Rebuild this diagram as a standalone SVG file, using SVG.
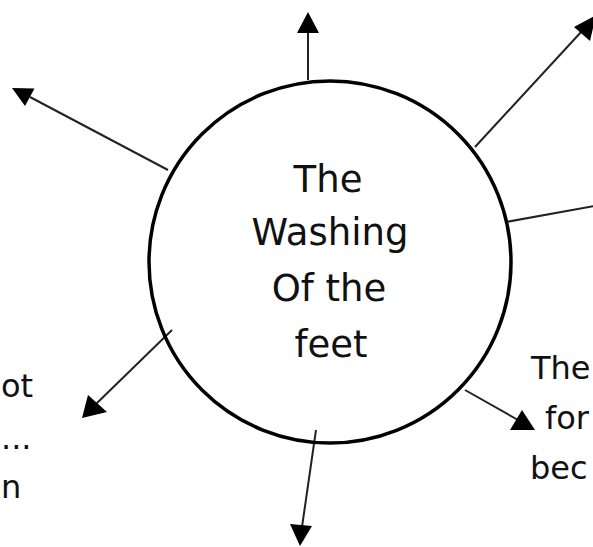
<svg xmlns="http://www.w3.org/2000/svg" width="593" height="547" viewBox="0 0 593 547">
<defs>
<style>
.conn{stroke:#222;stroke-width:2;fill:none;}
.head{fill:#000;}
.lbl{font-family:"DejaVu Sans",sans-serif;fill:#111;}
.big{font-size:37px;text-anchor:middle;}
.side{font-size:32px;}
</style>
</defs>
<rect width="593" height="547" fill="#fff"/>
<g id="connectors">
<line class="conn" x1="308" y1="80" x2="308" y2="14"/>
<path class="head" d="M308,12 L297,33 L319,33 Z"/>
<line class="conn" x1="168" y1="170" x2="30" y2="97"/>
<path class="head" d="M12,88 L34.5,88.5 L25,106 Z"/>
<line class="conn" x1="475" y1="147" x2="582" y2="31"/>
<path class="head" d="M596,15 L574,27 L590,41 Z"/>
<line class="conn" x1="506" y1="222" x2="600" y2="205"/>
<line class="conn" x1="465" y1="390" x2="518" y2="420"/>
<path class="head" d="M535,430 L522,410 L510,430 Z"/>
<line class="conn" x1="316" y1="430" x2="302" y2="527"/>
<path class="head" d="M300,546 L290,524 L312,526 Z"/>
<line class="conn" x1="172" y1="330" x2="96" y2="404"/>
<path class="head" d="M82,418 L88,395 L107,412 Z"/>
</g>
<g id="center">
<circle cx="330" cy="262" r="181" fill="none" stroke="#000" stroke-width="3.5"/>
<text class="lbl big" x="328" y="192">The</text>
<text class="lbl big" x="330" y="245">Washing</text>
<text class="lbl big" x="329" y="301">Of the</text>
<text class="lbl big" x="331" y="357">feet</text>
</g>
<g id="left-label">
<text class="lbl side" x="1" y="397">ot</text>
<text class="lbl side" x="1" y="449">...</text>
<text class="lbl side" x="1" y="498">n</text>
</g>
<g id="right-label">
<text class="lbl side" x="531" y="379">The</text>
<text class="lbl side" x="545" y="429">for</text>
<text class="lbl side" x="530" y="479">bec</text>
</g>
</svg>
